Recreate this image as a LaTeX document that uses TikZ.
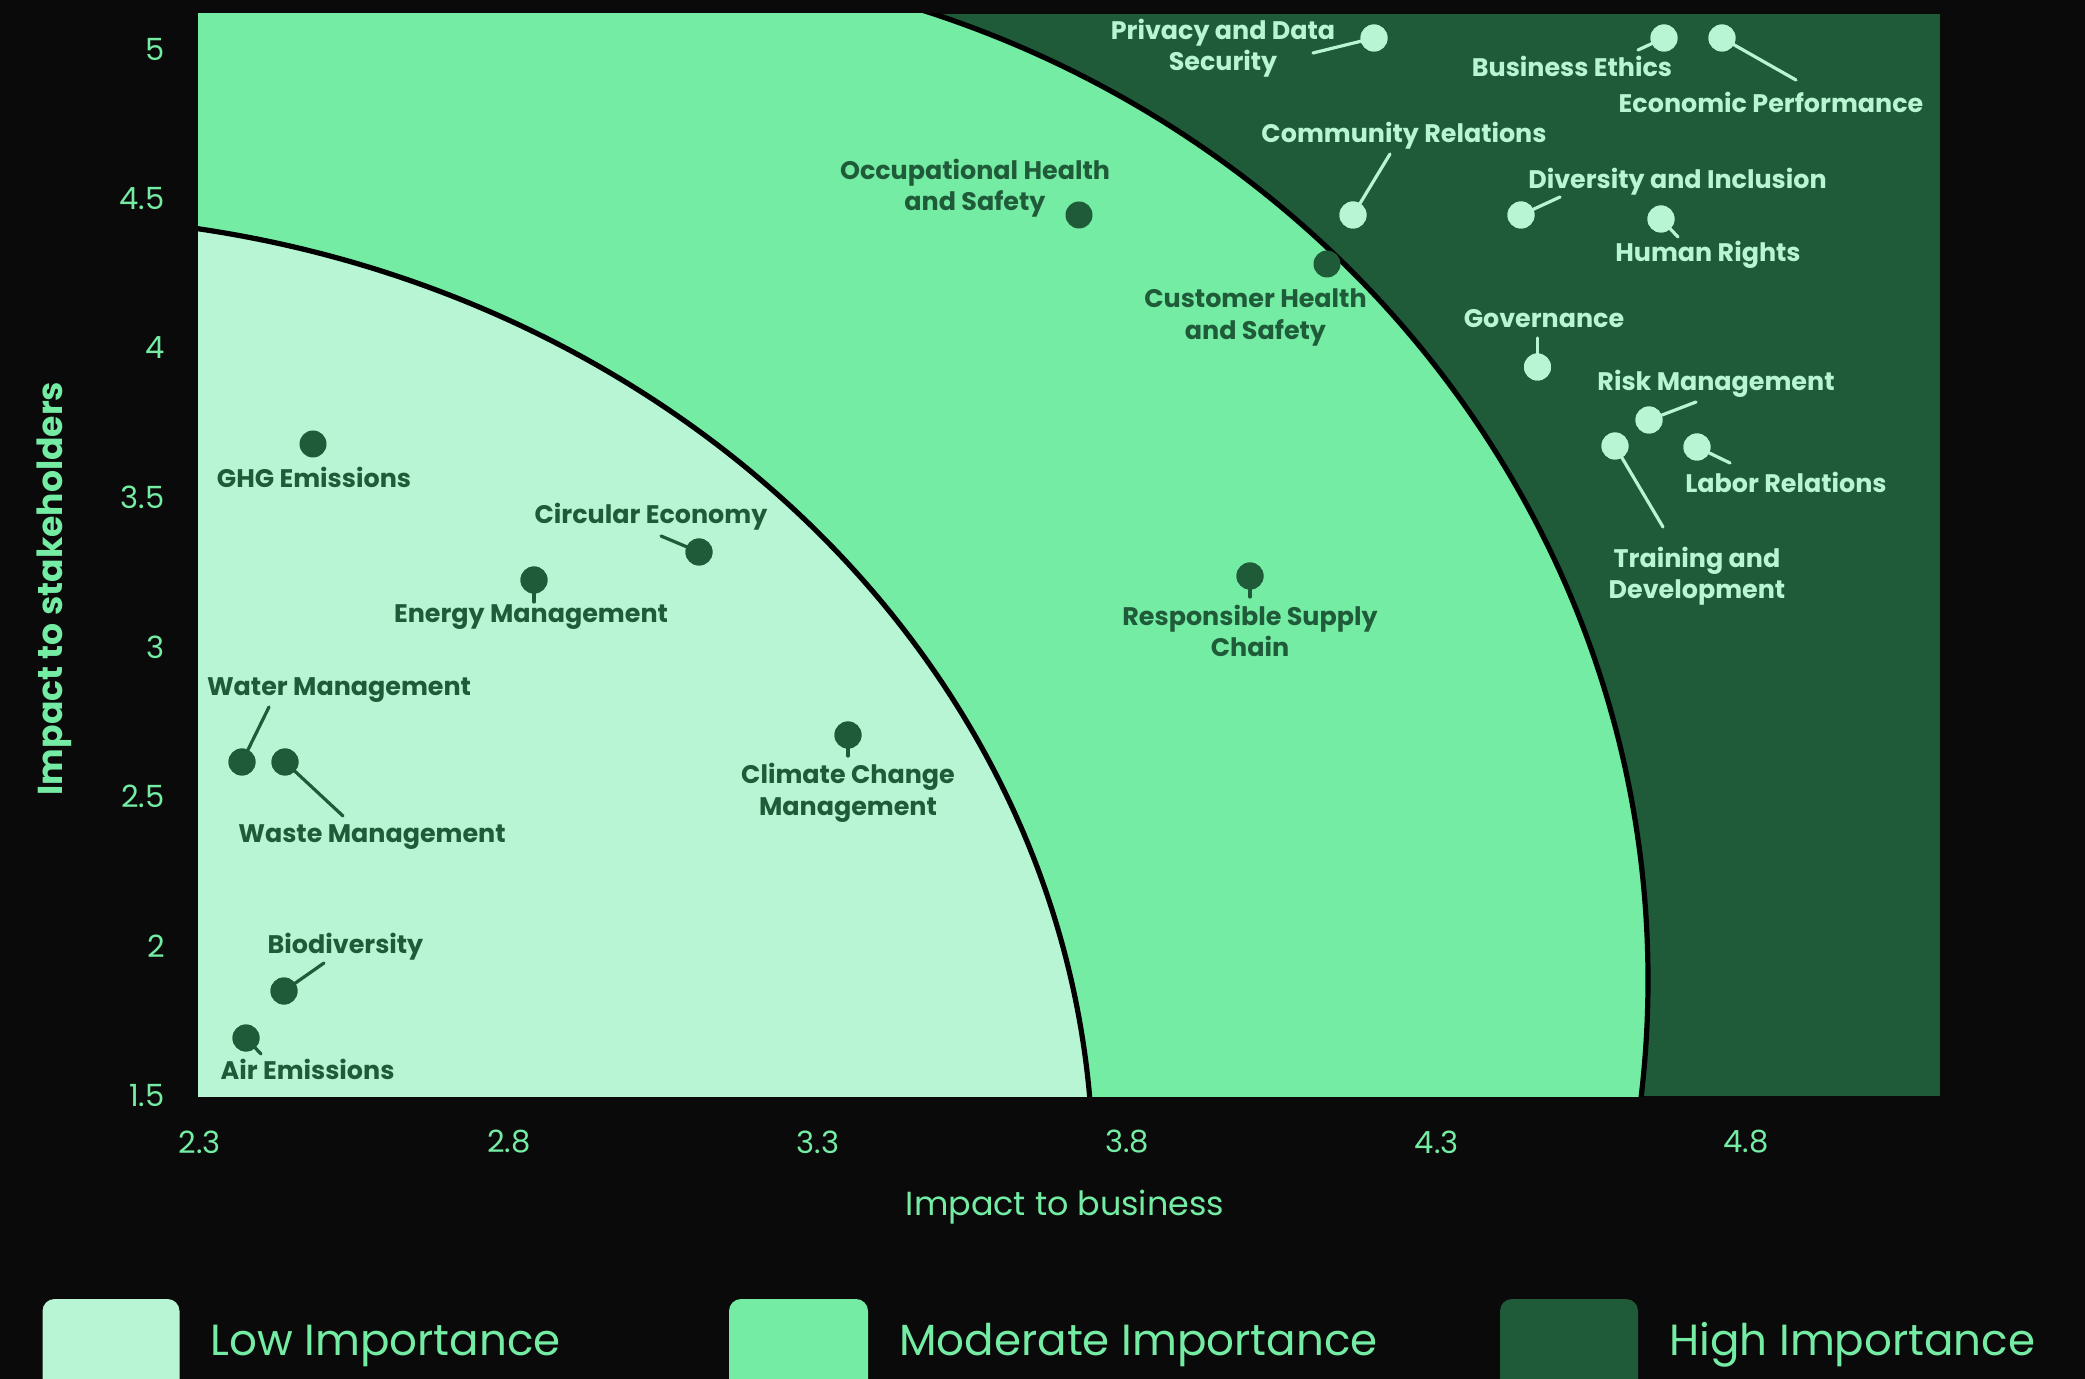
\documentclass[tikz,border=0pt]{standalone}
\usepackage{fontspec}
\setmainfont{Poppins}
\definecolor{bgc}{HTML}{0A0A0A}
\definecolor{lowc}{HTML}{B8F5D4}
\definecolor{modc}{HTML}{74ECA3}
\definecolor{highc}{HTML}{1F5A39}
\newcommand\mylabfont{\fontsize{12.7pt}{15.75pt}\selectfont\bfseries}
\newcommand\myticfont{\fontsize{15.3pt}{18pt}\selectfont}
\newcommand\mytitfont{\fontsize{16.7pt}{20pt}\selectfont}
\newcommand\myytitfont{\fontsize{17.3pt}{20pt}\selectfont\bfseries}
\newcommand\mylegfont{\fontsize{21.8pt}{26pt}\selectfont}
\tikzset{
  dotd/.style={circle, fill=highc, inner sep=0pt, minimum size=13.5pt},
  dotl/.style={circle, fill=lowc, inner sep=0pt, minimum size=13.5pt},
  labd/.style={text=highc, font=\mylabfont, inner sep=0pt, align=center},
  labl/.style={text=lowc, font=\mylabfont, inner sep=0pt, align=center},
  cond/.style={draw=highc, line width=1.6pt, line cap=round},
  conl/.style={draw=lowc, line width=1.6pt, line cap=round},
  boundary/.style={draw=black, line width=2.6pt},
  tickl/.style={text=modc, font=\myticfont, inner sep=0pt},
  legbox/.style={rounded corners=6pt},
  legtext/.style={text=modc, font=\mylegfont, inner sep=0pt, anchor=base west}
}
\begin{document}
\begin{tikzpicture}[x=0.5pt,y=-0.5pt]
\fill[bgc] (0,0) rectangle (2085,1379);
\useasboundingbox (0,0) rectangle (2085,1379);

% regions
\begin{scope}
\clip (198,14) rectangle (1940,1096);
\fill[highc] (198,14) rectangle (1940,1096);
\fill[modc] (198,0) rectangle (589.5,1100);
\fill[modc] (589.5,980) ellipse [x radius=529.25pt, y radius=510.65pt];
\begin{scope}
\clip (589.5,0) rectangle (2000,1100);
\draw[boundary] (589.5,980) ellipse [x radius=529.25pt, y radius=510.65pt];
\end{scope}
\fill[lowc] (23,1173) ellipse [x radius=535pt, y radius=478.5pt];
\draw[boundary] (23,1173) ellipse [x radius=535pt, y radius=478.5pt];
\end{scope}

% axis ticks
\foreach \v/\yy in {5/49,4.5/198.5,4/348,3.5/497.5,3/647,2.5/796.5,2/946,1.5/1095.5}
  \node[tickl, anchor=east] (yt\v) at (165,\yy) {\v};
\foreach \v/\xx in {2.3/199.5,2.8/508.8,3.3/818.1,3.8/1127.4,4.3/1436.7,4.8/1746}
  \node[tickl, anchor=center] (xt\v) at (\xx,1142) {\v};
\node[text=modc, font=\mytitfont, inner sep=0pt, anchor=base] (xtitle) at (1065,1215) {Impact to business};
\node[text=modc, font=\myytitfont, inner sep=0pt, anchor=base, rotate=90] (ytitle) at (62,588.5) {Impact to stakeholders};

% dots
\node[dotd] (ghg) at (313,444) {};
\node[dotd] (circ) at (699,552) {};
\node[dotd] (ener) at (534,580) {};
\node[dotd] (water) at (242,762) {};
\node[dotd] (waste) at (285,762) {};
\node[dotd] (bio) at (284,991) {};
\node[dotd] (air) at (246,1038) {};
\node[dotd] (clim) at (848,735) {};
\node[dotd] (occ) at (1079,215) {};
\node[dotd] (cust) at (1327,264) {};
\node[dotd] (resp) at (1250,576) {};
\node[dotl] (priv) at (1374,38) {};
\node[dotl] (comm) at (1353,215) {};
\node[dotl] (bus) at (1664,38) {};
\node[dotl] (eco) at (1722,38) {};
\node[dotl] (div) at (1521,215) {};
\node[dotl] (hum) at (1661,219) {};
\node[dotl] (gov) at (1537.5,367) {};
\node[dotl] (risk) at (1649,420) {};
\node[dotl] (lab) at (1697,447) {};
\node[dotl] (train) at (1615,446) {};

% connector ends
\coordinate (circE) at (661,536);
\coordinate (enerE) at (534,602);
\coordinate (waterE) at (269,707);
\coordinate (wasteE) at (343,816);
\coordinate (bioE) at (324,963);
\coordinate (airE) at (261,1054);
\coordinate (climE) at (848,756);
\coordinate (respE) at (1250,597);
\coordinate (privE) at (1313,53);
\coordinate (commE) at (1390,154);
\coordinate (busE) at (1638,50);
\coordinate (ecoE) at (1796,80);
\coordinate (divE) at (1560,197);
\coordinate (humE) at (1678,237);
\coordinate (govE) at (1537.5,338);
\coordinate (riskE) at (1696,402);
\coordinate (labE) at (1730,463);
\coordinate (trainE) at (1663,527);

\draw[cond] (circ.center) -- (circE);
\draw[cond] (ener.center) -- (enerE);
\draw[cond] (water.center) -- (waterE);
\draw[cond] (waste.center) -- (wasteE);
\draw[cond] (bio.center) -- (bioE);
\draw[cond] (air.center) -- (airE);
\draw[cond] (clim.center) -- (climE);
\draw[cond] (resp.center) -- (respE);
\draw[conl] (priv.center) -- (privE);
\draw[conl] (comm.center) -- (commE);
\draw[conl] (bus.center) -- (busE);
\draw[conl] (eco.center) -- (ecoE);
\draw[conl] (div.center) -- (divE);
\draw[conl] (hum.center) -- (humE);
\draw[conl] (gov.center) -- (govE);
\draw[conl] (risk.center) -- (riskE);
\draw[conl] (lab.center) -- (labE);
\draw[conl] (train.center) -- (trainE);
% dots kept on top of connectors
\foreach \n in {circ,ener,water,waste,bio,air,clim,resp}
  \fill[highc] (\n.center) circle (6.75pt);
\foreach \n in {priv,comm,bus,eco,div,hum,gov,risk,lab,train}
  \fill[lowc] (\n.center) circle (6.75pt);

% labels
\node[labd, anchor=base] (ghgL) at (314,488) {GHG Emissions};
\node[labd, anchor=base] (circL) at (651,524) {Circular Economy};
\node[labd, anchor=base] (enerL) at (531,623) {Energy Management};
\node[labd, anchor=base] (waterL) at (339,696) {Water Management};
\node[labd, anchor=base] (wasteL) at (372,843) {Waste Management};
\node[labd, anchor=base] (bioL) at (345.5,954) {Biodiversity};
\node[labd, anchor=base] (airL) at (307.5,1079) {Air Emissions};
\node[labd, anchor=north] (climL) at (848,763) {Climate Change\\Management};
\node[labd, anchor=north] (occL) at (975,158.5) {Occupational Health\\and Safety};
\node[labd, anchor=north] (custL) at (1255.5,288.5) {Customer Health\\and Safety};
\node[labd, anchor=north] (respL) at (1250,604.5) {Responsible Supply\\Chain};
\node[labl, anchor=north] (privL) at (1223,18.5) {Privacy and Data\\Security};
\node[labl, anchor=base] (commL) at (1404,143) {Community Relations};
\node[labl, anchor=base] (busL) at (1572,77) {Business Ethics};
\node[labl, anchor=base] (ecoL) at (1771,113) {Economic Performance};
\node[labl, anchor=base] (divL) at (1677.5,189) {Diversity and Inclusion};
\node[labl, anchor=base] (humL) at (1708,262) {Human Rights};
\node[labl, anchor=base] (govL) at (1544,328) {Governance};
\node[labl, anchor=base] (riskL) at (1716,391) {Risk Management};
\node[labl, anchor=base] (labL) at (1786,492.5) {Labor Relations};
\node[labl, anchor=north] (trainL) at (1697,546.5) {Training and\\Development};

% legend
\begin{scope}
\clip (0,0) rectangle (2085,1379);
\fill[lowc, legbox] (42.5,1299) rectangle (179.5,1420);
\fill[modc, legbox] (729,1299) rectangle (868,1420);
\fill[highc, legbox] (1500,1299) rectangle (1638,1420);
\end{scope}
\node[legtext] (legLow) at (210,1355) {Low Importance};
\node[legtext] (legMod) at (899,1355) {Moderate Importance};
\node[legtext] (legHigh) at (1669,1355) {High Importance};
\end{tikzpicture}
\end{document}
